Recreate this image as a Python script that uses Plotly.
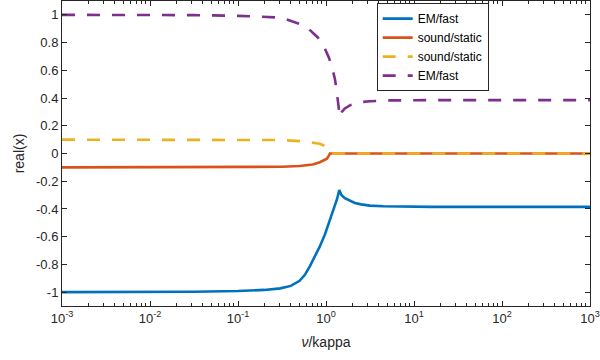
import plotly.graph_objects as go

# ---- data: log10(nu/kappa) and real(x) ----
em1_lognu = [-3.0, -2.0, -1.5, -1.0, -0.7, -0.52, -0.4, -0.3, -0.24, -0.184, -0.13, -0.07, -0.01,
             0.044, 0.075, 0.10, 0.125, 0.151, 0.175, 0.214, 0.27, 0.328, 0.40, 0.498, 0.65,
             0.84, 1.2, 3.0]
em1_re = [-1.0, -1.0, -0.997, -0.992, -0.984, -0.973, -0.955, -0.918, -0.875, -0.814, -0.75,
          -0.67, -0.58, -0.479, -0.43, -0.383, -0.33, -0.263, -0.30, -0.322, -0.342, -0.357,
          -0.367, -0.376, -0.381, -0.383, -0.385, -0.385]

snd1_lognu = [-3.0, -1.0, -0.5, -0.3, -0.15, -0.07, -0.02, 0.01, 0.025, 0.038, 0.045, 3.0]
snd1_re = [-0.1, -0.099, -0.096, -0.09, -0.08, -0.063, -0.05, -0.038, -0.024, -0.01, 0.0, 0.0]

snd2_lognu = [-3.0, -1.0, -0.5, -0.258, -0.15, -0.07, -0.032, 0.0, 0.025, 0.04, 0.045, 3.0]
snd2_re = [0.1, 0.1, 0.097, 0.088, 0.08, 0.07, 0.06, 0.047, 0.03, 0.014, 0.0, 0.0]

em2_lognu = [-3.0, -2.0, -1.5, -1.0, -0.75, -0.58, -0.45, -0.3, -0.2, -0.093, -0.03, 0.032,
             0.07, 0.101, 0.12, 0.138, 0.148, 0.157, 0.18, 0.214, 0.28, 0.385, 0.5, 0.726,
             1.2, 3.0]
em2_re = [1.0, 1.0, 0.998, 0.993, 0.988, 0.982, 0.968, 0.935, 0.9, 0.837, 0.78, 0.693, 0.62,
          0.538, 0.46, 0.36, 0.30, 0.263, 0.30, 0.325, 0.35, 0.37, 0.377, 0.383, 0.385, 0.385]

legend_names = ["EM/fast", "sound/static", "sound/static", "EM/fast"]
colors = ["#0072BD", "#D95319", "#EDB120", "#7E2F8E"]

y_ticks = [-1, -0.8, -0.6, -0.4, -0.2, 0, 0.2, 0.4, 0.6, 0.8, 1]
y_ticktext = ["-1", "-0.8", "-0.6", "-0.4", "-0.2", "0", "0.2", "0.4", "0.6", "0.8", "1"]
x_ticks = [1e-3, 1e-2, 1e-1, 1e0, 1e1, 1e2, 1e3]
x_ticktext = ["10<sup>-3</sup>", "10<sup>-2</sup>", "10<sup>-1</sup>", "10<sup>0</sup>",
              "10<sup>1</sup>", "10<sup>2</sup>", "10<sup>3</sup>"]

fig = go.Figure()
series = [(em1_lognu, em1_re, "solid"), (snd1_lognu, snd1_re, "solid"),
          (snd2_lognu, snd2_re, "13px,12px"), (em2_lognu, em2_re, "13px,12px")]
for (lx, ys, dash), name, c in zip(series, legend_names, colors):
    xs = [10 ** v for v in lx]
    fig.add_trace(go.Scatter(x=xs, y=ys, mode="lines", name=name,
                             line=dict(color=c, width=2.6, dash=dash)))

axcol = "#262626"
font = "Liberation Sans, Arial, Helvetica, sans-serif"
fig.update_layout(
    width=600, height=360,
    margin=dict(l=62, r=10, t=1, b=54),
    plot_bgcolor="white", paper_bgcolor="white",
    font=dict(family=font, size=13, color=axcol),
    showlegend=True,
    legend=dict(x=0.596, y=0.993, xanchor="left", yanchor="top",
                bgcolor="white", bordercolor=axcol, borderwidth=1,
                font=dict(size=12, color="#000000"),
                tracegroupgap=0, itemwidth=30),
    xaxis=dict(type="log", range=[-3, 3], tickvals=x_ticks, ticktext=x_ticktext,
               ticks="inside", ticklen=5, tickcolor=axcol, showline=True, linecolor=axcol,
               linewidth=1, mirror="allticks", showgrid=False, zeroline=False,
               minor=dict(ticks="inside", ticklen=3, tickcolor=axcol, dtick="D1", showgrid=False),
               title=dict(text="<i>ν</i>/kappa", standoff=12, font=dict(size=14))),
    yaxis=dict(range=[-1.1, 1.1], tickvals=y_ticks, ticktext=y_ticktext,
               ticks="inside", ticklen=5, tickcolor=axcol, showline=True, linecolor=axcol,
               linewidth=1, mirror="allticks", showgrid=False, zeroline=False,
               title=dict(text="real(x)", standoff=8, font=dict(size=14))),
)

fig.write_html("out.html", config={"displayModeBar": False},
               post_script="document.body.style.margin='0';")
